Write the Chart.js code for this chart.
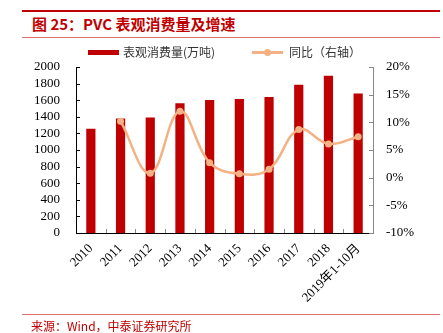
<!DOCTYPE html>
<html>
<head>
<meta charset="utf-8">
<script src="https://cdn.jsdelivr.net/npm/chart.js@4"></script>
<style>
  html, body { margin: 0; padding: 0; background: #fff; }
  #wrap { position: relative; width: 443px; height: 333px; overflow: hidden; }
  #topLine { position: absolute; left: 22px; top: 10px; width: 418px; height: 2px; background: #C00000; }
  #title { position: absolute; left: 32px; top: 13px; font: bold 15px "Noto Sans CJK SC", sans-serif; color: #C00000; white-space: nowrap; }
  #subLine { position: absolute; left: 22px; top: 37px; width: 418px; height: 1px; background: #E07070; }
  #botLine { position: absolute; left: 22px; top: 314px; width: 418px; height: 1px; background: #E07070; }
  #source { position: absolute; left: 31px; top: 317px; font: 12px "Noto Sans CJK SC", sans-serif; color: #C00000; white-space: nowrap; }
  canvas { position: absolute; left: 0; top: 0; }
</style>
</head>
<body>
<div id="wrap">
  <div id="topLine"></div>
  <div id="title">图 25：PVC 表观消费量及增速</div>
  <div id="subLine"></div>
  <canvas id="c" width="443" height="333"></canvas>
  <div id="botLine"></div>
  <div id="source">来源：Wind，中泰证券研究所</div>
</div>
<script>
// categories and series
const years = ["2010", "2011", "2012", "2013", "2014", "2015", "2016", "2017", "2018", "2019年1-10月"]
const consumption = [1255, 1380, 1392, 1562, 1602, 1614, 1638, 1786, 1894, 1680]
const yoy = [null, 10.2, 0.8, 12.0, 2.7, 0.7, 1.5, 8.7, 6.1, 7.4]
const barLabel = "表观消费量(万吨)"
const lineLabel = "同比（右轴）"

const red = "#C00000"
const peach = "#F4B183"
const tickFont = { family: "'Liberation Serif', 'Noto Sans CJK SC', serif", size: 13 }

// small inward tick marks on all three axes
const innerTicks = {
  id: "innerTicks",
  afterDraw(chart) {
    const ctx = chart.ctx
    const { x, y, y1 } = chart.scales
    ctx.save()
    ctx.lineWidth = 1
    ctx.strokeStyle = "#000"
    y.ticks.forEach(t => {
      const py = Math.round(y.getPixelForValue(t.value)) + 0.5
      ctx.beginPath(); ctx.moveTo(y.right, py); ctx.lineTo(y.right + 4, py); ctx.stroke()
    })
    ctx.strokeStyle = "#888"
    y1.ticks.forEach(t => {
      const py = Math.round(y1.getPixelForValue(t.value)) + 0.5
      ctx.beginPath(); ctx.moveTo(y1.left, py); ctx.lineTo(y1.left - 4, py); ctx.stroke()
    })
    for (let i = 1; i < years.length; i++) {
      const px = Math.round((x.getPixelForTick(i - 1) + x.getPixelForTick(i)) / 2) + 0.5
      ctx.beginPath(); ctx.moveTo(px, x.top); ctx.lineTo(px, x.top - 4); ctx.stroke()
    }
    ctx.restore()
  }
}

// legend row above the plot
const legendRow = {
  id: "legendRow",
  afterDraw(chart) {
    const ctx = chart.ctx
    ctx.save()
    ctx.font = "12px 'Noto Sans CJK SC', sans-serif"
    ctx.textBaseline = "middle"
    ctx.fillStyle = red
    ctx.fillRect(88, 50, 31, 5)
    ctx.fillStyle = "#333"
    ctx.fillText(barLabel, 123, 52)
    ctx.strokeStyle = peach
    ctx.lineWidth = 3
    ctx.beginPath(); ctx.moveTo(252, 52.5); ctx.lineTo(283, 52.5); ctx.stroke()
    ctx.fillStyle = peach
    ctx.beginPath(); ctx.arc(267.5, 52.5, 3.5, 0, Math.PI * 2); ctx.fill()
    ctx.fillStyle = "#333"
    ctx.fillText(lineLabel, 289, 52)
    ctx.restore()
  }
}

new Chart(document.getElementById("c"), {
  type: "bar",
  data: {
    labels: years,
    datasets: [
      {
        type: "line",
        label: lineLabel,
        data: yoy,
        yAxisID: "y1",
        borderColor: peach,
        backgroundColor: peach,
        borderWidth: 2.5,
        pointRadius: 3.5,
        pointBorderWidth: 0,
        tension: 0.4,
        order: 0
      },
      {
        label: barLabel,
        data: consumption,
        yAxisID: "y",
        backgroundColor: red,
        categoryPercentage: 1,
        barPercentage: 0.31,
        order: 1
      }
    ]
  },
  options: {
    responsive: false,
    animation: false,
    layout: { padding: { top: 67, left: 0, right: 0, bottom: 0 } },
    plugins: { legend: { display: false }, tooltip: { enabled: false } },
    scales: {
      x: {
        grid: { display: false, drawTicks: false },
        border: { color: "#000", width: 1 },
        ticks: { font: tickFont, color: "#000", minRotation: 45, maxRotation: 45, autoSkip: false, padding: 8 },
        afterFit(s) { s.height = 100 }
      },
      y: {
        position: "left",
        min: 0, max: 2000,
        grid: { display: false, drawTicks: false },
        border: { color: "#000", width: 1 },
        ticks: { stepSize: 200, autoSkip: false, font: tickFont, color: "#000", padding: 16, callback: v => String(v) },
        afterFit(s) { s.width = 76 }
      },
      y1: {
        position: "right",
        min: -10, max: 20,
        grid: { display: false, drawTicks: false },
        border: { color: "#888", width: 1 },
        ticks: { stepSize: 5, autoSkip: false, font: tickFont, color: "#000", padding: 13, callback: v => v + "%" },
        afterFit(s) { s.width = 70 }
      }
    }
  },
  plugins: [innerTicks, legendRow]
})
</script>
</body>
</html>
